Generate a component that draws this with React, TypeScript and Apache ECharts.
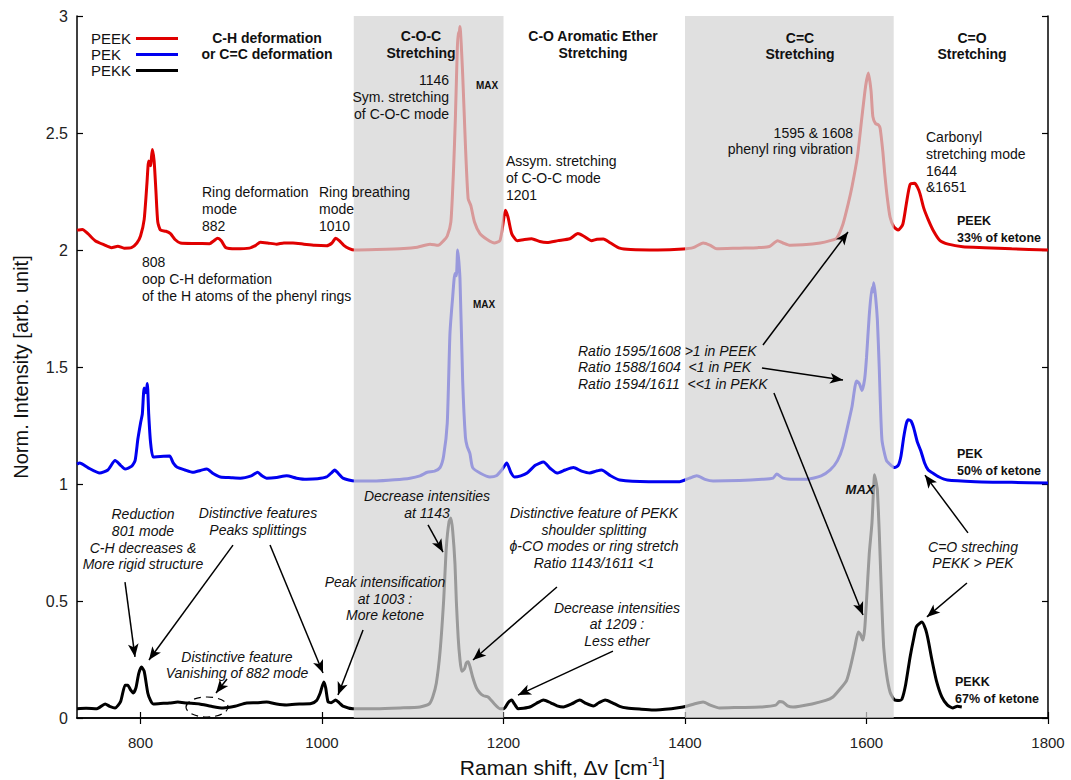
import React, { useEffect, useRef } from "react";
import * as echarts from "echarts";

// ---------- data ----------
const xTickValues = [800, 1000, 1200, 1400, 1600, 1800];
const yTickValues = [0, 0.5, 1, 1.5, 2, 2.5, 3];
const shadedBands = [
  [1035, 1200],
  [1400, 1630],
];

const peekSpectrum = [
  [730, 2.085], [736, 2.088], [742, 2.07], [750, 2.04], [760, 2.022], [768, 2.01], [775, 2.016], [782, 2.008],
  [790, 2.01], [796, 2.03], [800, 2.06], [804, 2.13], [807, 2.28], [809, 2.38], [811, 2.36], [813, 2.43],
  [815, 2.38], [817, 2.25], [819, 2.12], [822, 2.085], [828, 2.08], [833, 2.07], [838, 2.045], [844, 2.03],
  [860, 2.028], [876, 2.027], [881, 2.04], [885, 2.05], [889, 2.04], [894, 2.01], [905, 2.005], [920, 2.008],
  [927, 2.02], [932, 2.033], [940, 2.03], [950, 2.025], [958, 2.03], [968, 2.03], [980, 2.025], [992, 2.02],
  [1005, 2.018], [1011, 2.03], [1015, 2.05], [1019, 2.04], [1024, 2.02], [1030, 2.006], [1036, 2.0], [1060, 2.002],
  [1090, 2.006], [1105, 2.012], [1119, 2.025], [1128, 2.02], [1134, 2.04], [1138, 2.06], [1142, 2.12], [1145, 2.35],
  [1147, 2.57], [1149, 2.85], [1150, 2.93], [1151, 2.92], [1152, 2.955], [1155, 2.75], [1158, 2.45], [1161, 2.22],
  [1164, 2.19], [1168, 2.12], [1174, 2.07], [1182, 2.045], [1190, 2.03], [1196, 2.04], [1199, 2.1], [1202, 2.17],
  [1205, 2.14], [1209, 2.07], [1215, 2.04], [1223, 2.045], [1231, 2.048], [1240, 2.036], [1248, 2.032], [1260, 2.04],
  [1273, 2.048], [1282, 2.07], [1288, 2.06], [1297, 2.04], [1303, 2.046], [1310, 2.047], [1318, 2.03], [1328, 2.008],
  [1340, 2.002], [1370, 2.0], [1398, 2.004], [1409, 2.01], [1420, 2.03], [1428, 2.02], [1435, 2.005], [1460, 2.008],
  [1480, 2.01], [1493, 2.015], [1502, 2.04], [1508, 2.03], [1516, 2.02], [1530, 2.022], [1549, 2.03], [1560, 2.04],
  [1567, 2.05], [1574, 2.11], [1580, 2.2], [1584, 2.27], [1590, 2.4], [1595, 2.57], [1599, 2.7], [1602, 2.756],
  [1605, 2.68], [1607, 2.57], [1610, 2.54], [1613, 2.535], [1615, 2.52], [1618, 2.42], [1620, 2.33], [1623, 2.22],
  [1626, 2.14], [1630, 2.1], [1635, 2.085], [1640, 2.11], [1644, 2.2], [1648, 2.28], [1653, 2.285], [1656, 2.27],
  [1659, 2.24], [1663, 2.18], [1668, 2.13], [1674, 2.08], [1681, 2.04], [1690, 2.025], [1706, 2.014], [1730, 2.01],
  [1760, 2.005], [1800, 2.0],
];

const pekSpectrum = [
  [730, 1.085], [733, 1.09], [742, 1.07], [755, 1.047], [764, 1.06], [772, 1.1], [778, 1.08], [783, 1.064],
  [790, 1.075], [794, 1.1], [797, 1.19], [800, 1.26], [802, 1.3], [804, 1.41], [806, 1.39], [807.5, 1.43],
  [809, 1.3], [811, 1.18], [814, 1.115], [822, 1.118], [832, 1.12], [836, 1.09], [840, 1.073], [849, 1.06],
  [858, 1.05], [866, 1.058], [873, 1.064], [880, 1.045], [888, 1.03], [900, 1.027], [910, 1.025], [922, 1.035],
  [929, 1.05], [934, 1.035], [939, 1.025], [950, 1.028], [961, 1.035], [972, 1.025], [983, 1.02], [995, 1.022],
  [1005, 1.03], [1011, 1.05], [1014, 1.06], [1018, 1.045], [1023, 1.025], [1036, 1.013], [1060, 1.013], [1080, 1.018],
  [1097, 1.025], [1108, 1.035], [1116, 1.05], [1124, 1.055], [1130, 1.07], [1134, 1.12], [1138, 1.26], [1141, 1.645],
  [1144, 1.8], [1146.5, 1.9], [1148, 1.89], [1149.5, 2.0], [1152, 1.88], [1155, 1.44], [1158, 1.2], [1160, 1.16],
  [1163, 1.13], [1166, 1.07], [1175, 1.045], [1185, 1.03], [1192, 1.035], [1198, 1.06], [1203.6, 1.09], [1208, 1.05],
  [1212, 1.03], [1219, 1.035], [1226, 1.047], [1235, 1.08], [1244, 1.094], [1252, 1.065], [1259, 1.047], [1268, 1.06],
  [1277, 1.07], [1286, 1.055], [1295, 1.047], [1302, 1.055], [1308, 1.06], [1318, 1.035], [1328, 1.017], [1360, 1.01],
  [1394, 1.01], [1405, 1.025], [1413, 1.035], [1422, 1.02], [1431, 1.013], [1460, 1.015], [1485, 1.02], [1497, 1.025],
  [1501, 1.043], [1508, 1.025], [1520, 1.02], [1534, 1.02], [1550, 1.035], [1560, 1.06], [1568, 1.1], [1574, 1.16],
  [1580, 1.26], [1584, 1.33], [1589, 1.44], [1592, 1.43], [1595, 1.4], [1598, 1.45], [1600, 1.54], [1603, 1.72],
  [1606, 1.84], [1607, 1.82], [1608, 1.86], [1610, 1.8], [1612, 1.7], [1614, 1.5], [1617, 1.19], [1622, 1.1],
  [1627, 1.08], [1631, 1.07], [1635, 1.08], [1638, 1.12], [1641, 1.2], [1644, 1.26], [1646, 1.275], [1649, 1.27],
  [1652, 1.24], [1656, 1.18], [1660, 1.14], [1664, 1.09], [1668, 1.06], [1673, 1.047], [1680, 1.03], [1689, 1.017],
  [1720, 1.01], [1760, 1.007], [1800, 1.004],
];

const pekkSpectrum = [
  [730, 0.04], [740, 0.042], [752, 0.04], [761, 0.06], [766, 0.05], [772, 0.043], [778, 0.07], [783, 0.14],
  [786, 0.14], [789, 0.12], [792, 0.107], [795, 0.13], [798, 0.19], [801, 0.218], [804, 0.2], [808, 0.107],
  [811, 0.075], [814, 0.06], [822, 0.062], [832, 0.064], [841, 0.068], [851, 0.064], [865, 0.06], [878, 0.05],
  [891, 0.043], [904, 0.05], [917, 0.064], [928, 0.065], [939, 0.068], [950, 0.06], [961, 0.056], [975, 0.06],
  [988, 0.062], [994, 0.075], [998, 0.107], [1002, 0.154], [1004, 0.13], [1006.6, 0.07], [1010, 0.065], [1015, 0.077],
  [1019, 0.065], [1023, 0.051], [1034, 0.04], [1060, 0.04], [1086, 0.043], [1108, 0.047], [1118, 0.06], [1122, 0.09],
  [1126, 0.15], [1130, 0.28], [1134, 0.5], [1137, 0.73], [1140, 0.84], [1142, 0.855], [1144, 0.8], [1146.5, 0.66],
  [1148, 0.5], [1150, 0.346], [1152, 0.25], [1154, 0.2], [1157, 0.21], [1159, 0.235], [1161, 0.24], [1163, 0.22],
  [1166, 0.175], [1170, 0.13], [1174, 0.107], [1178, 0.095], [1183, 0.09], [1190, 0.06], [1196, 0.04], [1200.5, 0.04],
  [1205, 0.065], [1209, 0.077], [1212, 0.06], [1216, 0.04], [1222, 0.042], [1229, 0.047], [1236, 0.062], [1244, 0.077],
  [1252, 0.065], [1259, 0.052], [1266, 0.047], [1275, 0.06], [1284, 0.077], [1291, 0.062], [1299, 0.051], [1305, 0.065],
  [1312, 0.077], [1320, 0.065], [1328, 0.05], [1336, 0.043], [1350, 0.038], [1365, 0.034], [1385, 0.04], [1398, 0.047],
  [1410, 0.06], [1420, 0.068], [1428, 0.055], [1438, 0.043], [1460, 0.045], [1483, 0.047], [1500, 0.055], [1504, 0.07],
  [1508, 0.068], [1513, 0.052], [1519, 0.047], [1540, 0.06], [1555, 0.075], [1563, 0.09], [1570, 0.12], [1578, 0.16],
  [1583, 0.23], [1587, 0.3], [1591, 0.367], [1593, 0.36], [1596, 0.333], [1598, 0.38], [1600, 0.5], [1603, 0.7],
  [1606, 0.833], [1609, 1.04], [1611, 1.0], [1612, 0.974], [1614, 0.8], [1617, 0.474], [1619, 0.3], [1622, 0.19],
  [1626, 0.11], [1631, 0.077], [1636, 0.075], [1639, 0.08], [1643, 0.14], [1648, 0.26], [1652, 0.34], [1655, 0.39],
  [1661, 0.41], [1665, 0.38], [1668, 0.333], [1672, 0.25], [1677, 0.16], [1683, 0.09], [1689, 0.056], [1695, 0.043],
  [1700, 0.05], [1705, 0.047],
];

// annotation arrows in data coordinates: [xFrom, yFrom, xTo, yTo]
const arrowSegments = [
  [782.9, 0.581, 793.9, 0.261],
  [901.9, 0.739, 809.3, 0.248],
  [942.7, 0.739, 1001.1, 0.192],
  [1045.2, 0.376, 1017.6, 0.098],
  [895.3, 0.167, 883.2, 0.107],
  [1116.8, 0.825, 1133.3, 0.709],
  [1258.9, 0.56, 1166.4, 0.248],
  [1320.6, 0.286, 1216, 0.098],
  [1485.9, 1.594, 1579.6, 2.077],
  [1484.8, 1.496, 1574.1, 1.444],
  [1498, 1.389, 1596.1, 0.44],
  [1711.8, 0.791, 1664.4, 1.038],
  [1710.7, 0.577, 1666.6, 0.432],
];

const FONT = '"Liberation Sans", Arial, Helvetica, sans-serif';

type Ann = {
  text: string;
  x: number;
  y: number;
  align?: "left" | "center" | "right";
  weight?: string;
  style?: string;
  size?: number;
  lh?: number;
};

const annotations: Ann[] = [
  // region headings
  { text: "C-H deformation\nor C=C deformation", x: 267, y: 29.5, align: "center", weight: "bold", lh: 16.5 },
  { text: "C-O-C\nStretching", x: 421, y: 28, align: "center", weight: "bold", lh: 16.5 },
  { text: "C-O Aromatic Ether\nStretching", x: 593, y: 28, align: "center", weight: "bold", lh: 16.5 },
  { text: "C=C\nStretching", x: 800, y: 29.5, align: "center", weight: "bold", lh: 16.5 },
  { text: "C=O\nStretching", x: 972, y: 29.5, align: "center", weight: "bold", lh: 16.5 },
  // band assignments
  { text: "Ring deformation\nmode\n882", x: 202, y: 183.5 },
  { text: "Ring breathing\nmode\n1010", x: 319, y: 183.5 },
  { text: "808\noop C-H deformation\nof the H atoms of the phenyl rings", x: 142, y: 253.5 },
  { text: "1146\nSym. stretching\nof C-O-C mode", x: 449, y: 71, align: "right" },
  { text: "Assym. stretching\nof C-O-C mode\n1201", x: 506, y: 152 },
  { text: "1595 & 1608\nphenyl ring vibration", x: 853, y: 124.5, align: "right", lh: 16 },
  { text: "Carbonyl\nstretching mode\n1644\n&1651", x: 926, y: 128.5, lh: 16.8 },
  // series tags
  { text: "PEEK\n33% of ketone", x: 957, y: 213, weight: "bold", size: 12.5, lh: 16.5 },
  { text: "PEK\n50% of ketone", x: 957, y: 446, weight: "bold", size: 12.5, lh: 16.5 },
  { text: "PEKK\n67% of ketone", x: 955, y: 674, weight: "bold", size: 12.5, lh: 16.5 },
  { text: "MAX", x: 487, y: 77, align: "center", weight: "bold", size: 10 },
  { text: "MAX", x: 484, y: 296, align: "center", weight: "bold", size: 10 },
  { text: "MAX", x: 860, y: 481, align: "center", weight: "bold", style: "italic", size: 13 },
  // italic comments
  { text: "Reduction\n801 mode\nC-H decreases &\nMore rigid structure", x: 143, y: 505.5, align: "center", style: "italic", lh: 16.8 },
  { text: "Distinctive features\nPeaks splittings", x: 258, y: 504.5, align: "center", style: "italic" },
  { text: "Peak intensification\nat 1003 :\nMore ketone", x: 385, y: 573.5, align: "center", style: "italic", lh: 16.7 },
  { text: "Distinctive feature\nVanishing of 882 mode", x: 237, y: 648.5, align: "center", style: "italic", lh: 16 },
  { text: "Decrease intensities\nat 1143", x: 427, y: 487.5, align: "center", style: "italic" },
  { text: "Distinctive feature of PEKK\nshoulder splitting\nϕ-CO modes or ring stretch\nRatio 1143/1611 <1", x: 594, y: 504.5, align: "center", style: "italic", lh: 16.7 },
  { text: "Decrease intensities\nat 1209 :\nLess ether", x: 617, y: 599.5, align: "center", style: "italic", lh: 16.5 },
  { text: "Ratio 1595/1608 >1 in PEEK\nRatio 1588/1604  <1 in PEK\nRatio 1594/1611  <<1 in PEKK", x: 578, y: 342.5, style: "italic", lh: 16.5 },
  { text: "C=O streching\nPEKK > PEK", x: 973, y: 538.5, align: "center", style: "italic", lh: 16 },
];

export default function App() {
  const ref = useRef<HTMLDivElement>(null);

  useEffect(() => {
    document.body.style.margin = "0";
    if (!ref.current) return;
    const chart = echarts.init(ref.current, undefined, { renderer: "svg" });

    const graphicTexts = annotations.map((a) => ({
      type: "text",
      x: a.x,
      y: a.y,
      z: 100,
      silent: true,
      style: {
        text: a.text,
        fill: "#111",
        font: `${a.style || "normal"} ${a.weight || "normal"} ${a.size || 14}px ${FONT}`,
        align: a.align || "left",
        verticalAlign: "top",
        lineHeight: a.lh || 17,
      },
    }));

    const lineSeries = (name: string, data: number[][], color: string) => ({
      name,
      type: "line",
      data,
      showSymbol: false,
      symbol: "none",
      smooth: 0.2,
      z: 2,
      lineStyle: { color, width: 3 },
      itemStyle: { color },
      silent: true,
    });

    chart.setOption({
      animation: false,
      backgroundColor: "#fff",
      grid: { left: 77, right: 23, top: 16, bottom: 62, containLabel: false, outerBoundsMode: "none" },
      legend: {
        data: ["PEEK", "PEK", "PEKK"],
        orient: "vertical",
        left: 86,
        top: 26,
        align: "right",
        icon: "rect",
        itemWidth: 42,
        itemHeight: 3,
        itemGap: 1,
        formatter: "{a|{name}}",
        textStyle: {
          fontFamily: FONT,
          fontSize: 15,
          color: "#111",
          rich: { a: { width: 40, height: 17, align: "left", fontFamily: FONT, fontSize: 15, color: "#111" } },
        },
        selectedMode: false,
      },
      xAxis: [
        {
          type: "value",
          min: 730,
          max: 1800,
          position: "bottom",
          name: "Raman shift, Δv [cm{sup|-1}]",
          nameLocation: "middle",
          nameGap: 36,
          nameTextStyle: {
            fontFamily: FONT,
            fontSize: 21,
            color: "#111",
            rich: { sup: { fontSize: 13, fontFamily: FONT, color: "#111", padding: [0, 0, 12, 0] } },
          },
          splitLine: { show: false },
          axisLine: { lineStyle: { color: "#000", width: 1.5 } },
          axisTick: { inside: true, length: 6, customValues: xTickValues, lineStyle: { color: "#000", width: 1.2 } },
          axisLabel: {
            customValues: xTickValues,
            formatter: (v: number) => String(v),
            margin: 17,
            fontFamily: FONT,
            fontSize: 15,
            color: "#222",
          },
        },
        {
          type: "value",
          min: 730,
          max: 1800,
          position: "top",
          splitLine: { show: false },
          axisLine: { lineStyle: { color: "#000", width: 1.5 } },
          axisTick: { inside: true, length: 6, customValues: xTickValues, lineStyle: { color: "#000", width: 1.2 } },
          axisLabel: { show: false },
        },
      ],
      yAxis: [
        {
          type: "value",
          min: 0,
          max: 3,
          interval: 0.5,
          position: "left",
          name: "Norm. Intensity [arb. unit]",
          nameLocation: "middle",
          nameGap: 46,
          nameTextStyle: { fontFamily: FONT, fontSize: 20, color: "#111" },
          splitLine: { show: false },
          axisLine: { lineStyle: { color: "#000", width: 1.5 } },
          axisTick: { inside: true, length: 6, lineStyle: { color: "#000", width: 1.2 } },
          axisLabel: {
            margin: 9,
            fontFamily: FONT,
            fontSize: 16,
            color: "#222",
            customValues: yTickValues,
            formatter: (v: number) => String(v),
          },
        },
        {
          type: "value",
          min: 0,
          max: 3,
          interval: 0.5,
          position: "right",
          splitLine: { show: false },
          axisLine: { lineStyle: { color: "#000", width: 1.5 } },
          axisTick: { inside: true, length: 6, lineStyle: { color: "#000", width: 1.2 } },
          axisLabel: { show: false },
        },
      ],
      series: [
        lineSeries("PEEK", peekSpectrum, "#e00000"),
        lineSeries("PEK", pekSpectrum, "#0000f0"),
        {
          ...lineSeries("PEKK", pekkSpectrum, "#000000"),
          markLine: {
            z: 20,
            silent: true,
            symbol: ["none", "arrow"],
            symbolSize: [8, 13],
            label: { show: false },
            lineStyle: { color: "#000", width: 1.5, type: "solid" },
            emphasis: { disabled: true },
            data: arrowSegments.map(([x1, y1, x2, y2]) => [{ coord: [x1, y1] }, { coord: [x2, y2] }]),
          },
        },
        {
          type: "custom",
          z: 3,
          silent: true,
          data: shadedBands,
          encode: { x: [0, 1] },
          renderItem: (_params: any, api: any) => {
            const p0 = api.coord([api.value(0), 3]);
            const p1 = api.coord([api.value(1), 0]);
            return {
              type: "rect",
              shape: { x: p0[0], y: p0[1], width: p1[0] - p0[0], height: p1[1] - p0[1] },
              style: { fill: "rgba(212,212,212,0.72)" },
            };
          },
        },
      ],
      graphic: {
        elements: [
          ...graphicTexts,
          {
            type: "ellipse",
            z: 100,
            silent: true,
            shape: { cx: 207, cy: 707, rx: 21, ry: 10 },
            style: { fill: "none", stroke: "#000", lineWidth: 1.2, lineDash: [7, 5] },
          },
        ],
      },
    });

    return () => chart.dispose();
  }, []);

  return <div ref={ref} style={{ width: 1071, height: 780 }} />;
}
